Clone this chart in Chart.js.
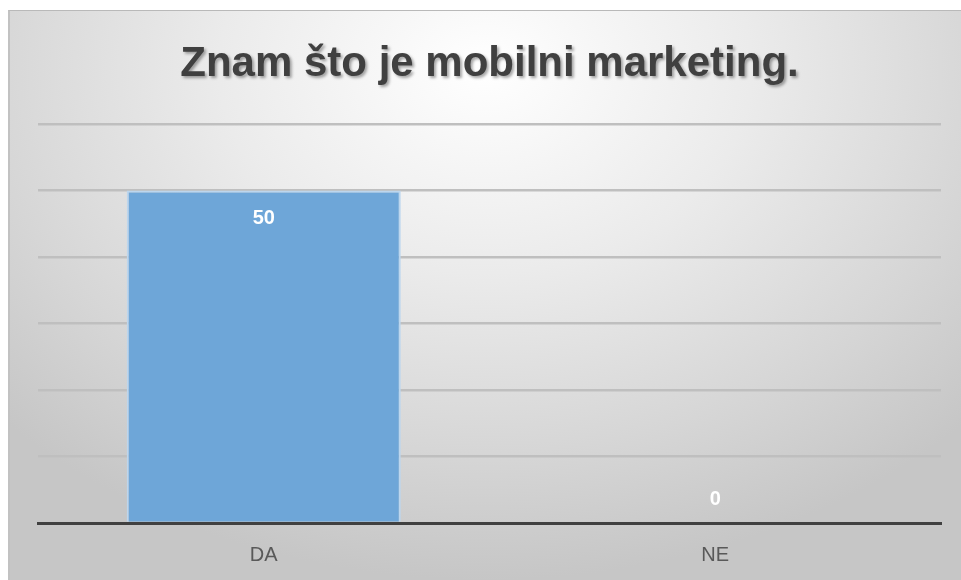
<!DOCTYPE html>
<html>
<head>
<meta charset="utf-8">
<script src="https://cdn.jsdelivr.net/npm/chart.js@4.4.1/dist/chart.umd.min.js"></script>
<style>
  html, body { margin: 0; padding: 0; background: #ffffff; }
  #card {
    position: absolute;
    left: 8px; top: 10px;
    width: 951px; height: 569px;
    border-top: 1px solid #b9b9b9;
    border-left: 2px solid #c2c2c2;
    background: radial-gradient(ellipse 70% 90% at 50% 10%, #ffffff 0%, #ebebeb 40%, #d6d6d6 75%, #c6c6c6 100%);
  }
  #card canvas { display: block; }
</style>
</head>
<body>
<div id="card"><canvas id="myChart" width="951" height="569"></canvas></div>
<script>
var titleText = 'Znam što je mobilni marketing.';
var categories = ['DA', 'NE'];
var answers = [50, 0];
var yTicks = [0, 10, 20, 30, 40, 50, 60];

// title with a soft drop shadow
var titlePlugin = {
    id: 'shadowTitle',
    afterDraw: function (chart) {
        var c = chart.ctx;
        var area = chart.chartArea;
        c.save();
        c.font = 'bold 42px "Liberation Sans Narrow", "Liberation Sans", sans-serif';
        c.fillStyle = '#404040';
        c.textAlign = 'center';
        c.textBaseline = 'alphabetic';
        c.shadowColor = 'rgba(0, 0, 0, 0.35)';
        c.shadowOffsetX = 2;
        c.shadowOffsetY = 2;
        c.shadowBlur = 3;
        c.fillText(titleText, (area.left + area.right) / 2, 65);
        c.restore();
    }
};

// white value labels at the inside end of each bar
var valueLabels = {
    id: 'valueLabels',
    afterDatasetsDraw: function (chart) {
        var c = chart.ctx;
        var meta = chart.getDatasetMeta(0);
        c.save();
        c.font = 'bold 20px "Liberation Sans", sans-serif';
        c.fillStyle = '#ffffff';
        c.textAlign = 'center';
        c.textBaseline = 'middle';
        meta.data.forEach(function (bar, i) {
            var y = Math.min(bar.y + 28, bar.base - 24);
            c.fillText(String(answers[i]), bar.x, y);
        });
        c.restore();
    }
};

var ctx = document.getElementById('myChart').getContext('2d');
var myChart = new Chart(ctx, {
    type: 'bar',
    data: {
        labels: categories,
        datasets: [{
            data: answers,
            backgroundColor: '#6ea6d8',
            borderColor: '#bcd6ee',
            borderWidth: 2,
            borderSkipped: 'start',
            categoryPercentage: 1,
            barPercentage: 0.607
        }]
    },
    options: {
        responsive: false,
        animation: false,
        layout: {
            padding: { left: 28, right: 20, top: 113, bottom: 0 }
        },
        plugins: {
            legend: { display: false },
            title: { display: false },
            tooltip: { enabled: false }
        },
        scales: {
            x: {
                grid: { display: false, drawTicks: false },
                border: { display: true, color: '#404040', width: 3 },
                ticks: {
                    color: '#595959',
                    padding: 20,
                    font: { family: '"Liberation Sans", sans-serif', size: 20 }
                },
                afterFit: function (scale) { scale.height = 57; }
            },
            y: {
                min: yTicks[0],
                max: yTicks[yTicks.length - 1],
                afterBuildTicks: function (scale) {
                    scale.ticks = yTicks.map(function (v) { return { value: v }; });
                },
                grid: { color: '#bfbfbf', lineWidth: 2.5, drawTicks: false },
                border: { display: false },
                ticks: { display: false }
            }
        }
    },
    plugins: [titlePlugin, valueLabels]
});
</script>
</body>
</html>
